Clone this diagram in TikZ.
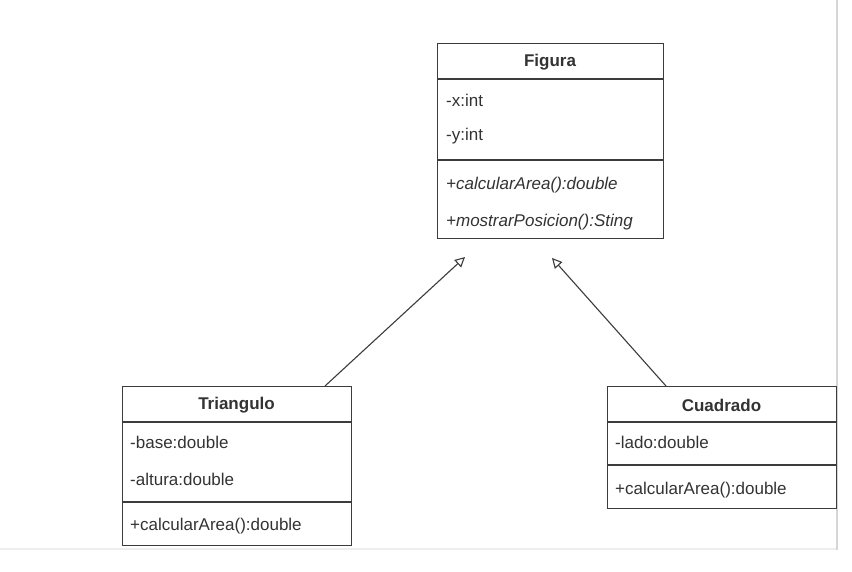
\documentclass[tikz,border=0pt]{standalone}
\usepackage{fontspec}
\setmainfont{Liberation Sans}
\usetikzlibrary{arrows.meta}
\definecolor{linec}{HTML}{3C3C3C}
\definecolor{textc}{HTML}{333333}
\definecolor{faintv}{HTML}{D6D6D6}
\definecolor{fainth}{HTML}{EEEEEE}
\tikzset{
  umlbox/.style={draw=linec, line width=1.3pt, fill=white, anchor=north west, inner sep=0pt},
  umltitle/.style={font=\fontsize{17}{20}\selectfont\bfseries, text=textc, anchor=center, inner sep=0pt},
  umlattr/.style={font=\fontsize{17}{20}\selectfont, text=textc, anchor=west, inner sep=0pt},
  umlital/.style={font=\fontsize{17}{20}\selectfont\itshape, text=textc, anchor=west, inner sep=0pt},
  umlsep/.style={draw=linec, line width=1.3pt},
  inherit/.style={draw=linec, line width=1.1pt, -{Triangle[open, length=10pt, width=10pt, line width=1.1pt]}},
  faintline/.style={line width=1.2pt},
}
\begin{document}
\begin{tikzpicture}[x=1pt,y=-1pt]
\useasboundingbox (0,0) rectangle (852,571);
\fill[white] (0,0) rectangle (852,571);
% faint page edges
\coordinate (vtop) at (837,0);
\coordinate (vbot) at (837,550);
\coordinate (hl) at (0,549);
\coordinate (hr) at (837,549);
\draw[faintline, draw=fainth] (hl) -- (hr);
\draw[faintline, draw=faintv] (vtop) -- (vbot);

% Figura
\node[umlbox, minimum width=226pt, minimum height=195pt] (fig) at (437,43) {};
\draw[umlsep] (437,79) -- (663,79);
\draw[umlsep] (437,160) -- (663,160);
\node[umltitle] (figt) at (550,62) {Figura};
\node[umlattr] (figa1) at (446,100) {-x:int};
\node[umlattr] (figa2) at (446,136) {-y:int};
\node[umlital] (figm1) at (446,185) {+calcularArea():double};
\node[umlital] (figm2) at (446,222) {+mostrarPosicion():Sting};

% Triangulo
\node[umlbox, minimum width=229pt, minimum height=159pt] (tri) at (122,386) {};
\draw[umlsep] (122,422) -- (351,422);
\draw[umlsep] (122,502) -- (351,502);
\node[umltitle] (trit) at (236.5,405) {Triangulo};
\node[umlattr] (tria1) at (130,442) {-base:double};
\node[umlattr] (tria2) at (130,479) {-altura:double};
\node[umlattr] (trim1) at (130,526) {+calcularArea():double};

% Cuadrado
\node[umlbox, minimum width=229pt, minimum height=122pt] (cua) at (607,386) {};
\draw[umlsep] (607,422) -- (836,422);
\draw[umlsep] (607,465) -- (836,465);
\node[umltitle] (cuat) at (721.5,405) {Cuadrado};
\node[umlattr] (cuaa1) at (615,442) {-lado:double};
\node[umlattr] (cuam1) at (615,490) {+calcularArea():double};

% inheritance arrows
\coordinate (triTop) at (325,386);
\coordinate (figInL) at (465,257);
\coordinate (cuaTop) at (666,386);
\coordinate (figInR) at (552,258);
\draw[inherit] (triTop) -- (figInL);
\draw[inherit] (cuaTop) -- (figInR);
\end{tikzpicture}
\end{document}
